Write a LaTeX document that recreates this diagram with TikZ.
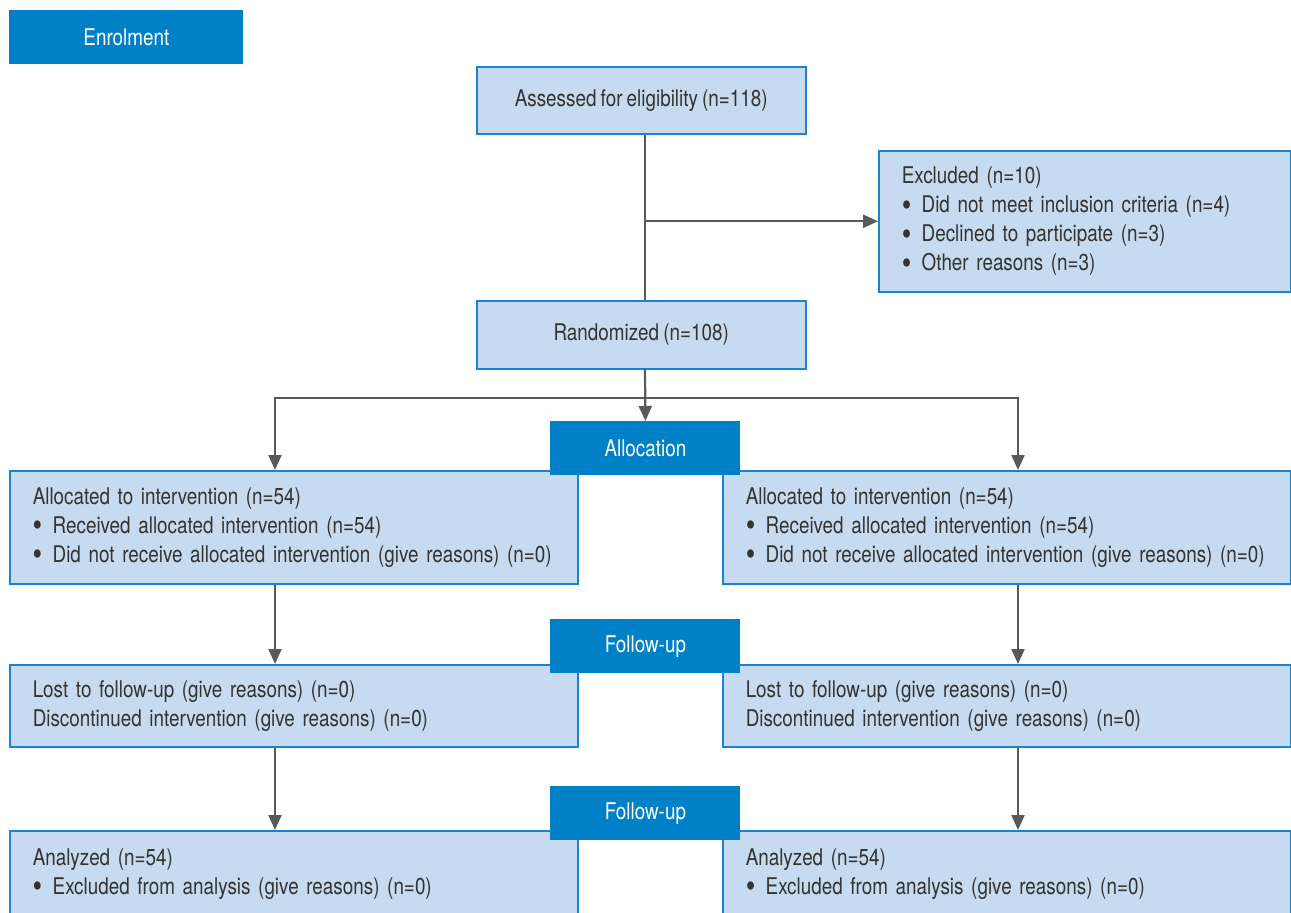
\documentclass[tikz,border=0pt]{standalone}
\usepackage{fontspec}
\setmainfont{TeX Gyre Heros}[FakeStretch=0.82,WordSpace=0.8]
\usetikzlibrary{arrows.meta}
\definecolor{bandblue}{HTML}{0080C6}
\definecolor{boxfill}{HTML}{C6DBEF}
\definecolor{boxline}{HTML}{1A84CC}
\definecolor{linegray}{HTML}{58595B}
\definecolor{textgray}{HTML}{333333}
\newcommand\dotitem{\smash{\raisebox{-0.16em}{\scalebox{1.45}{\textbullet}}}\hspace{0.45em}}
\tikzset{
  stage/.style={fill=bandblue,text=white,anchor=north west,inner sep=0pt},
  flowbox/.style={draw=boxline,line width=0.75pt,fill=boxfill,text=textgray,anchor=north west,inner sep=0pt},
  listbox/.style={flowbox,align=left,inner xsep=11.5pt},
  conn/.style={draw=linegray,line width=1.1pt},
  arr/.style={conn,-{Triangle[length=7.5pt,width=6.5pt]}}
}
\begin{document}
\begin{tikzpicture}[x=0.5pt,y=-0.5pt,font=\fontsize{11.5pt}{14.5pt}\selectfont]
\useasboundingbox (0,0) rectangle (1291,912);

\node[stage,minimum width=117pt,minimum height=27pt] (enrol) at (9,10) {Enrolment};

\node[flowbox,minimum width=164.5pt,minimum height=33.5pt] (assessed) at (476,66) {Assessed for eligibility (n=118)};
\node[listbox,minimum height=70.5pt,text width=183pt] (excluded) at (878,150) {Excluded (n=10)\\
\dotitem Did not meet inclusion criteria (n=4)\\
\dotitem Declined to participate (n=3)\\
\dotitem Other reasons (n=3)};
\node[flowbox,minimum width=164.5pt,minimum height=34pt] (randomized) at (476,300) {Randomized (n=108)};

% allocation
\node[listbox,minimum height=56.5pt,text width=261pt] (allocL) at (9,470) {Allocated to intervention (n=54)\\
\dotitem Received allocated intervention (n=54)\\
\mbox{\dotitem Did not receive allocated intervention (give reasons) (n=0)}};
\node[listbox,minimum height=56.5pt,text width=261pt] (allocR) at (722,470) {Allocated to intervention (n=54)\\
\dotitem Received allocated intervention (n=54)\\
\mbox{\dotitem Did not receive allocated intervention (give reasons) (n=0)}};

% follow-up
\node[listbox,minimum height=41pt,text width=261pt] (followL) at (9,664) {Lost to follow-up (give reasons) (n=0)\\
Discontinued intervention (give reasons) (n=0)};
\node[listbox,minimum height=41pt,text width=261pt] (followR) at (722,664) {Lost to follow-up (give reasons) (n=0)\\
Discontinued intervention (give reasons) (n=0)};

% analysis
\node[listbox,minimum height=43pt,text width=261pt] (analysisL) at (9,830) {Analyzed (n=54)\\
\dotitem Excluded from analysis (give reasons) (n=0)\\[8pt]};
\node[listbox,minimum height=43pt,text width=261pt] (analysisR) at (722,830) {Analyzed (n=54)\\
\dotitem Excluded from analysis (give reasons) (n=0)\\[8pt]};

\node[stage,minimum width=95pt,minimum height=27pt] (allocation) at (550,421) {Allocation};
\node[stage,minimum width=95pt,minimum height=27pt] (followup) at (550,619) {Follow-up};
\node[stage,minimum width=95pt,minimum height=27pt] (followup2) at (550,786) {Follow-up};

\coordinate (split) at (645,398);
\coordinate (leftx) at (275,0);
\coordinate (rightx) at (1018,0);

\draw[conn] (split |- assessed.south) -- (split |- randomized.north);
\draw[arr] (split |- excluded.west) -- (excluded.west);
\draw[arr] (split |- randomized.south) -- (allocation.north);
\draw[arr] (split) -| (leftx |- allocL.north);
\draw[arr] (split) -| (rightx |- allocR.north);
\draw[arr] (leftx |- allocL.south) -- (leftx |- followL.north);
\draw[arr] (rightx |- allocR.south) -- (rightx |- followR.north);
\draw[arr] (leftx |- followL.south) -- (leftx |- analysisL.north);
\draw[arr] (rightx |- followR.south) -- (rightx |- analysisR.north);
\end{tikzpicture}
\end{document}
